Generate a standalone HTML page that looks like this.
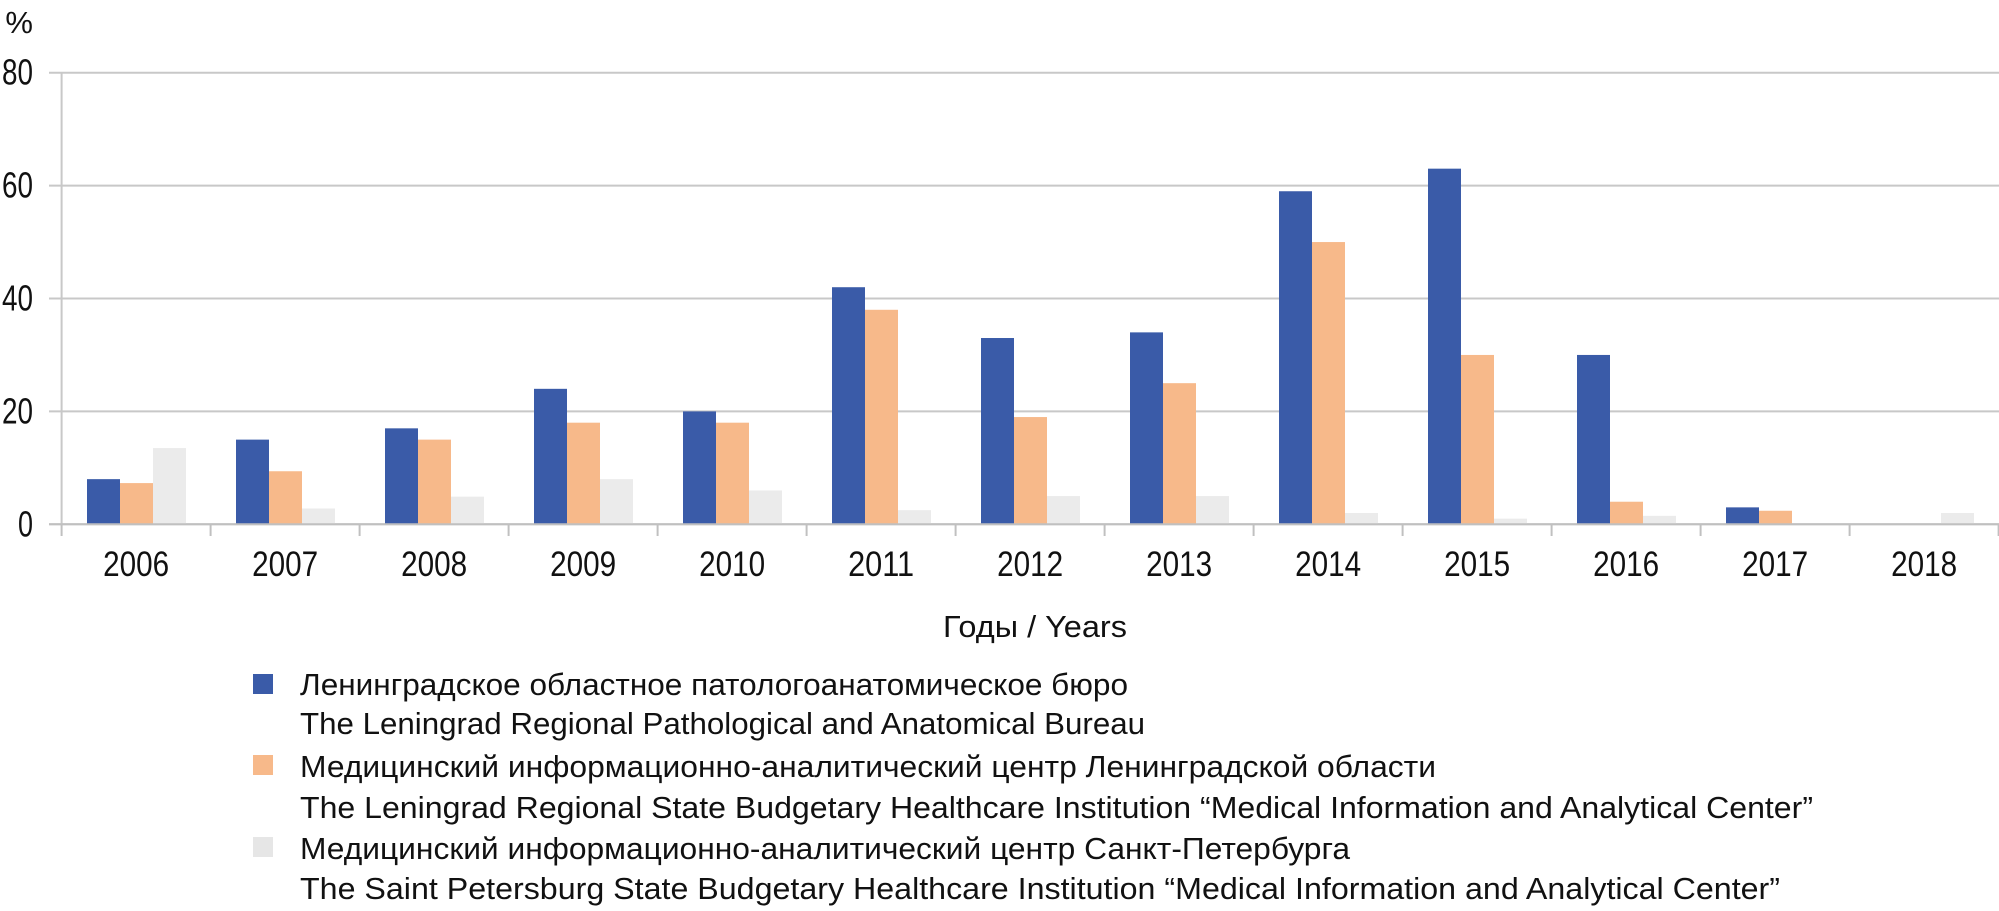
<!DOCTYPE html>
<html><head><meta charset="utf-8"><style>
html,body{margin:0;padding:0;background:#fff;}
svg{display:block;font-family:"Liberation Sans","DejaVu Sans",sans-serif;}
</style></head><body>
<svg id="chart" width="1999" height="911" viewBox="0 0 1999 911" xmlns="http://www.w3.org/2000/svg">
<g id="grid"></g>
<g id="bars"></g>
<g id="axes"></g>
<text x="33" y="33" font-size="31" text-anchor="end" fill="#111">%</text>
<text x="1035" y="637" font-size="31" text-anchor="middle" textLength="184" lengthAdjust="spacingAndGlyphs" fill="#111">Годы / Years</text>
<g>
<rect x="253" y="674" width="20" height="20" fill="#3a5ba8"/>
<text x="300" y="695" font-size="31" textLength="828" lengthAdjust="spacingAndGlyphs" fill="#111">Ленинградское областное патологоанатомическое бюро</text>
<text x="300" y="734" font-size="31" textLength="845" lengthAdjust="spacingAndGlyphs" fill="#111">The Leningrad Regional Pathological and Anatomical Bureau</text>
<rect x="253" y="755" width="20" height="20" fill="#f7b98a"/>
<text x="300" y="777" font-size="31" textLength="1136" lengthAdjust="spacingAndGlyphs" fill="#111">Медицинский информационно-аналитический центр Ленинградской области</text>
<text x="300" y="818" font-size="31" textLength="1513" lengthAdjust="spacingAndGlyphs" fill="#111">The Leningrad Regional State Budgetary Healthcare Institution “Medical Information and Analytical Center”</text>
<rect x="253" y="837" width="20" height="20" fill="#e6e6e6"/>
<text x="300" y="859" font-size="31" textLength="1050" lengthAdjust="spacingAndGlyphs" fill="#111">Медицинский информационно-аналитический центр Санкт-Петербурга</text>
<text x="300" y="899" font-size="31" textLength="1480" lengthAdjust="spacingAndGlyphs" fill="#111">The Saint Petersburg State Budgetary Healthcare Institution “Medical Information and Analytical Center”</text>
</g>
</svg>
<script>
const categories = ["2006","2007","2008","2009","2010","2011","2012","2013","2014","2015","2016","2017","2018"];
const bureauValues = [8,15,17,24,20,42,33,34,59,63,30,3,0];
const leningradMiacValues = [7.3,9.4,15,18,18,38,19,25,50,30,4,2.4,0];
const spbMiacValues = [13.5,2.8,4.9,8,6,2.5,5,5,2,1,1.5,0,2];
const yTicks = [0,20,40,60,80];

const NS = "http://www.w3.org/2000/svg";
const x0 = 61.6, catW = 149.0, y0 = 524.3, yTop = 72.7, yMax = 80, plotRight = 1999;
function yScale(v){ return y0 - (v / yMax) * (y0 - yTop); }
function xCat(i){ return x0 + i * catW; }
function mk(tag, attrs, parent){ const e = document.createElementNS(NS, tag); for (const k in attrs) e.setAttribute(k, attrs[k]); parent.appendChild(e); return e; }

const grid = document.getElementById('grid');
const axes = document.getElementById('axes');
const bars = document.getElementById('bars');

yTicks.forEach(t => {
  const y = yScale(t);
  const l = mk('line', {x1: 49, x2: plotRight, y1: y, y2: y, stroke: '#c8c8c8', 'stroke-width': 2}, grid);
  
  
  const s = String(t);
  const tx = mk('text', {x: 33, y: y + 12, 'font-size': 36, 'text-anchor': 'end', textLength: s.length > 1 ? 31 : 15, lengthAdjust: 'spacingAndGlyphs', fill: '#111'}, axes);
  tx.textContent = s;
  
  
});
const va = mk('line', {x1: x0, x2: x0, y1: yTop, y2: y0, stroke: '#c8c8c8', 'stroke-width': 2}, grid);



for (let i = 0; i <= categories.length; i++) {
  const x = xCat(i);
  const tk = mk('line', {x1: x, x2: x, y1: y0, y2: 536, stroke: '#c0c0c0', 'stroke-width': 2}, axes);
  
  
}

const series = [
  {name: 'bureau', vals: bureauValues, color: '#3a5ba8'},
  {name: 'leningrad-miac', vals: leningradMiacValues, color: '#f7b98a'},
  {name: 'spb-miac', vals: spbMiacValues, color: '#ebebeb'}
];
const barW = 33, groupOff = 25.4;
categories.forEach((c, i) => {
  series.forEach((s, j) => {
    const v = s.vals[i];
    if (v <= 0) return;
    const y = yScale(v);
    const r = mk('rect', {x: xCat(i) + groupOff + j * barW, y: y, width: barW, height: y0 - y, fill: s.color}, bars);
    
    
  });
  const lbl = mk('text', {x: xCat(i) + catW / 2, y: 576, 'font-size': 35, 'text-anchor': 'middle', textLength: 66, lengthAdjust: 'spacingAndGlyphs', fill: '#111'}, axes);
  lbl.textContent = c;
  
  
});
const xa = mk('line', {x1: 49, x2: plotRight, y1: y0, y2: y0, stroke: '#c0c0c0', 'stroke-width': 2}, axes);


</script>
</body></html>
